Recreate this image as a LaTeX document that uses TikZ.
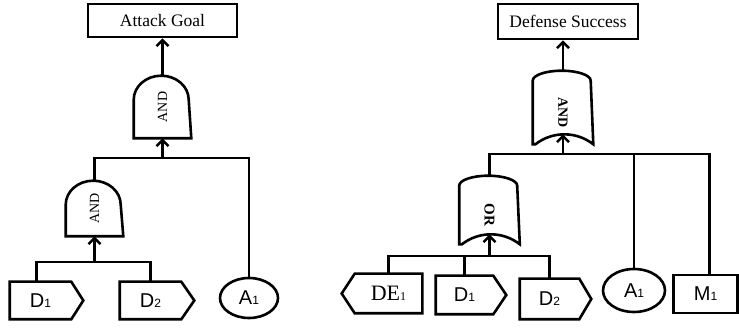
\documentclass[tikz,border=0pt]{standalone}
\usepackage{fontspec}
\setmainfont{Liberation Serif}
\newfontfamily\arialfont{Liberation Sans}
\usetikzlibrary{arrows.meta, shapes.geometric}

\newcommand{\lowsub}[1]{{\fontsize{12}{12}\selectfont #1}}

\begin{document}
\begin{tikzpicture}[x=1pt, y=1pt, line width=2.6pt,
	>={Straight Barb[length=6pt,width=12pt]},
	event/.style={draw, rectangle, inner sep=0pt, font=\fontsize{17.5}{17.5}\selectfont},
	basic/.style={draw, ellipse, inner sep=0pt, font=\arialfont\fontsize{20}{20}\selectfont},
	% body of a tag, the point is drawn outside it
	tag/.style={inner sep=0pt, font=\arialfont\fontsize{20}{20}\selectfont},
	tagright/.style={tag, append after command={\pgfextra{\let\tagnode\tikzlastnode
		\draw (\tagnode.south west) -- (\tagnode.north west) -- (\tagnode.north east)
			-- ([xshift=#1]\tagnode.east) -- (\tagnode.south east) -- cycle;}}},
	tagleft/.style={tag, append after command={\pgfextra{\let\tagnode\tikzlastnode
		\draw (\tagnode.south east) -- (\tagnode.north east) -- (\tagnode.north west)
			-- ([xshift=-#1]\tagnode.west) -- (\tagnode.south west) -- cycle;}}},
	andgate/.style={inner sep=0pt, minimum width=55pt, font=\fontsize{14}{14}\selectfont,
		append after command={\pgfextra{\let\gatenode\tikzlastnode
			\draw (\gatenode.south west) -- ([yshift=-24pt]\gatenode.north west)
				arc[start angle=180, end angle=0, x radius=27.5pt, y radius=24pt]
				-- (\gatenode.south east) -- cycle;}}},
	shieldgate/.style={inner sep=0pt, minimum width=58pt, font=\bfseries\fontsize{14}{14}\selectfont,
		append after command={\pgfextra{\let\gatenode\tikzlastnode
			\draw (\gatenode.south west) -- (\gatenode.north west)
				arc[start angle=180, end angle=0, x radius=29pt, y radius=10pt]
				-- (\gatenode.south east)
				arc[start angle=52, end angle=128, radius=47pt] -- cycle;}}}]
	\useasboundingbox (0,0) rectangle (739,329);

	% attack tree
	\node [event, minimum width=149pt, minimum height=33pt] (goalA) at (162.5,308.5) {Attack Goal};
	\node [andgate, minimum height=60pt] (andA) at (162.5,222) {\rotatebox{90}{AND}};
	\node [andgate, minimum height=53pt] (andB) at (94.5,120.5) {\rotatebox{90}{AND}};
	\node [tagright=12pt, minimum width=59pt, minimum height=35pt] (D1a) at (40.5,28.5) {D\lowsub{1}};
	\node [tagright=13pt, minimum width=59pt, minimum height=35pt] (D2a) at (150.5,28.5) {D\lowsub{2}};
	\node [basic, minimum width=58pt, minimum height=40pt] (A1a) at (249,31) {A\lowsub{1}};
	\coordinate (jA) at (162.5,171);
	\coordinate (jB) at (94.5,67);

	\draw [->] (andA) -- (goalA);
	\draw [->] (jA) -- (andA.south);
	\draw (andB.north) |- (jA) -| (A1a.north);
	\draw [->] (jB) -- (andB.south);
	\draw ([xshift=-4pt]D1a.north) |- (jB) -| (D2a.north);

	% defense tree
	\node [event, minimum width=140pt, minimum height=35pt] (goalD) at (568,307.5) {Defense Success};
	\node [shieldgate, minimum height=61pt] (andD) at (563,216.5) {\raisebox{5pt}{\rotatebox{-90}{AND}}};
	\node [shieldgate, minimum height=56pt] (orD) at (489.5,114) {\raisebox{5pt}{\rotatebox{-90}{\fontsize{15}{15}\selectfont OR}}};
	\node [tagleft=13pt, minimum width=65pt, minimum height=37pt,
		font=\fontsize{22}{22}\selectfont] (DE1) at (388.5,35.5) {DE\lowsub{1}};
	\node [tagright=13pt, minimum width=55pt, minimum height=36pt] (D1b) at (464.5,34) {D\lowsub{1}};
	\node [tagright=12pt, minimum width=57pt, minimum height=38pt] (D2b) at (549.5,30) {D\lowsub{2}};
	\node [basic, minimum width=62pt, minimum height=43pt] (A1b) at (634,38.5) {A\lowsub{1}};
	\node [event, minimum width=64pt, minimum height=38pt, font=\arialfont\fontsize{20}{20}\selectfont] (M1) at (705.5,35) {M\lowsub{1}};
	\coordinate (jD) at (563,175);
	\coordinate (jE) at (489.5,73);

	\draw [->] ([yshift=10pt]andD.north) -- (andD.north |- goalD.south);
	\draw [->] (jD) -- ([yshift=10pt]andD.south);
	\draw ([yshift=10pt]orD.north) |- (jD) -| ([xshift=4pt]M1.north);
	\draw (jD -| A1b.north) -- (A1b.north);
	\draw [->] (jE) -- ([yshift=10pt]orD.south);
	\draw (DE1.north) |- (jE) -| (D2b.north);
	\draw (D1b.north) -- (D1b.north |- jE);
\end{tikzpicture}
\end{document}
